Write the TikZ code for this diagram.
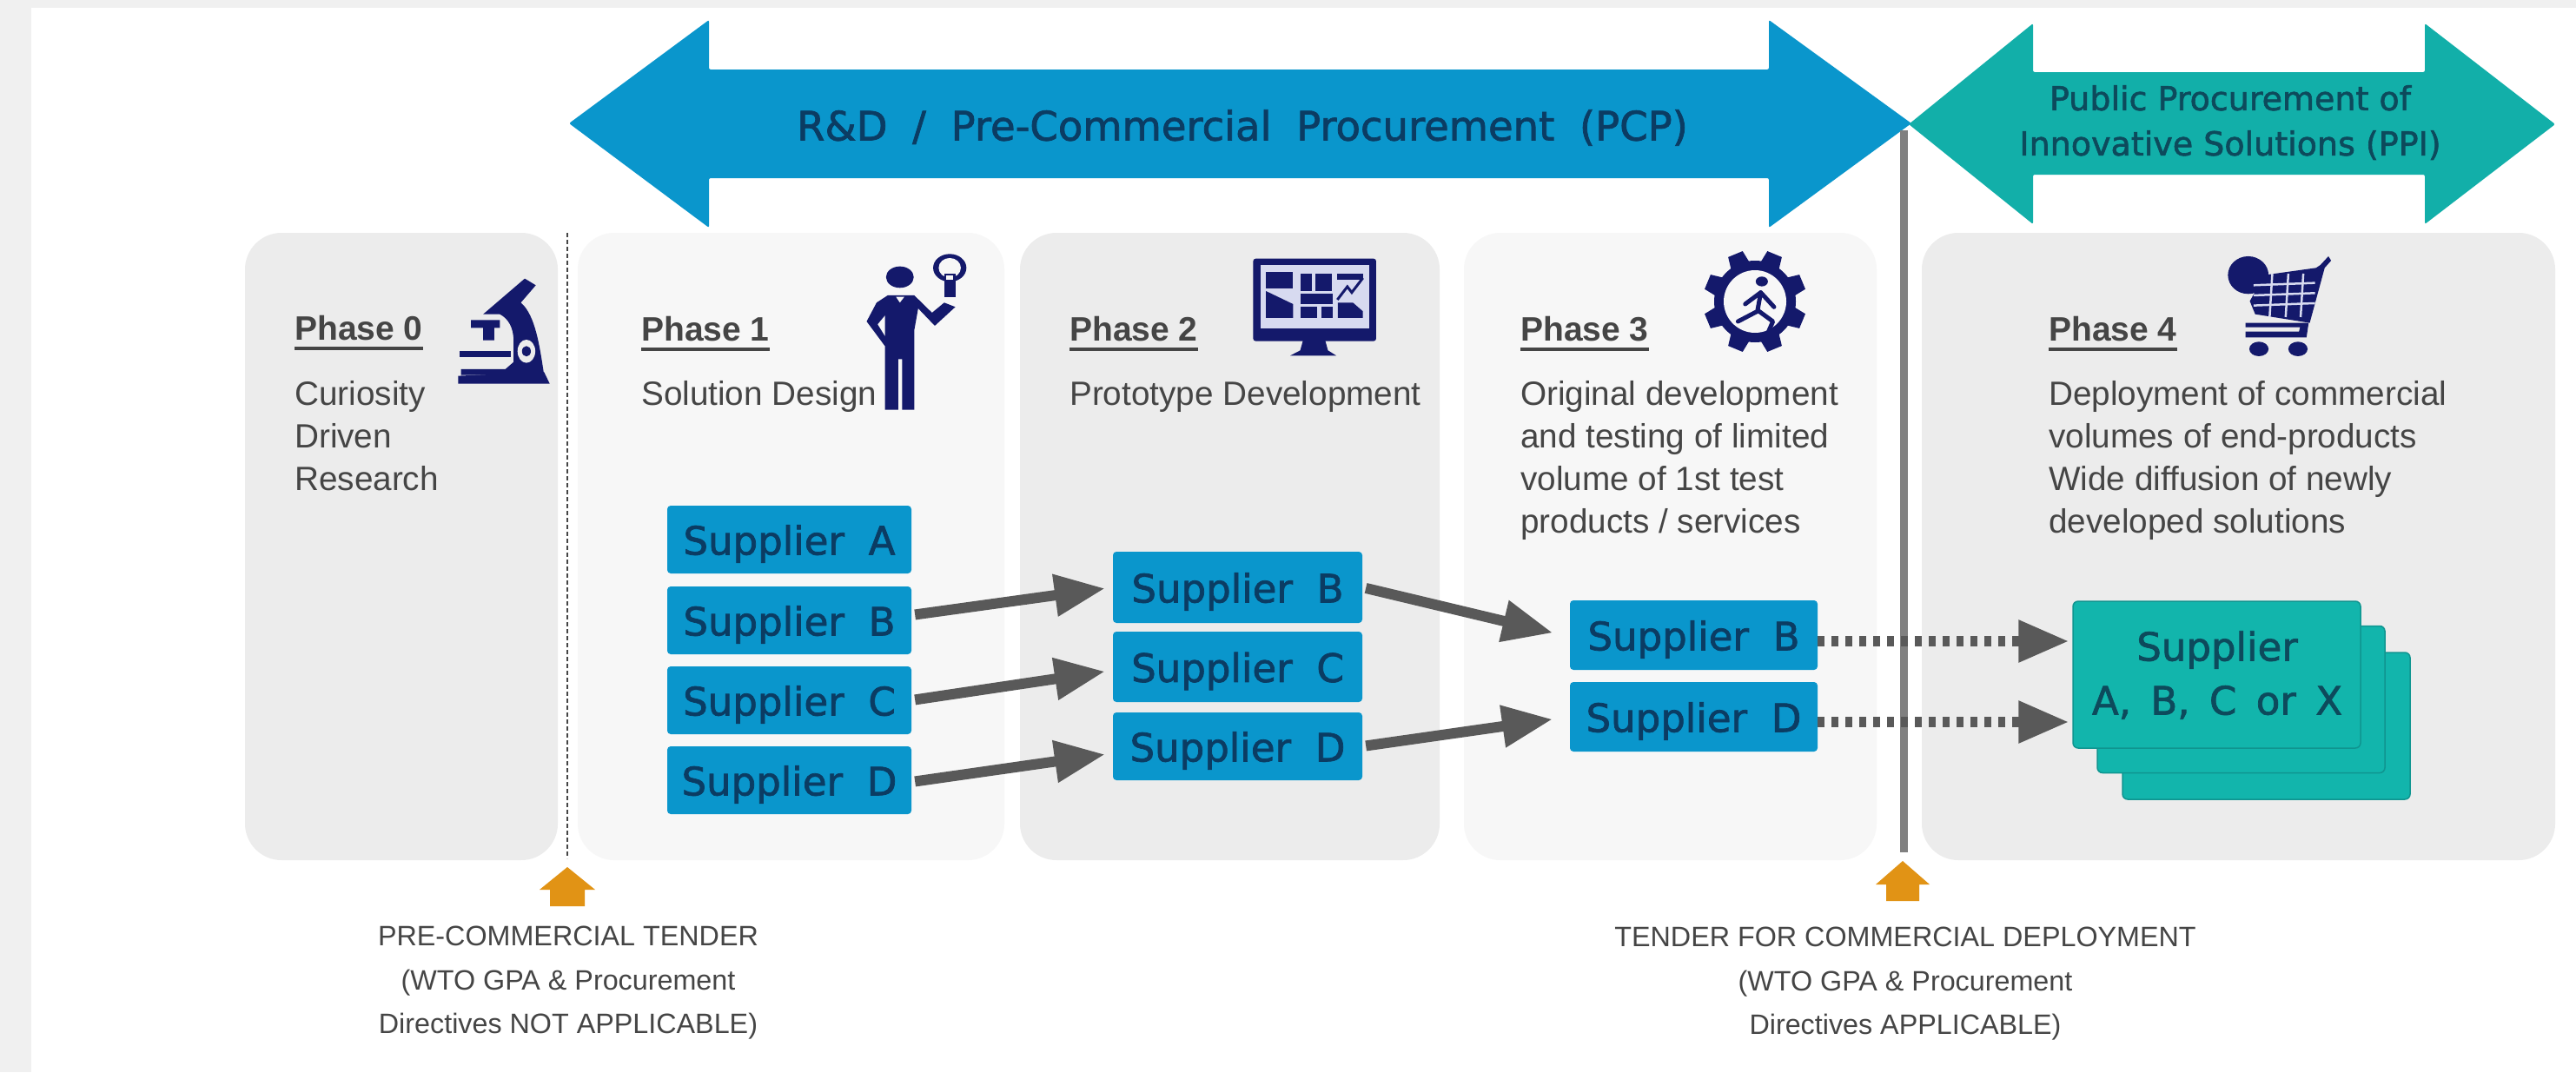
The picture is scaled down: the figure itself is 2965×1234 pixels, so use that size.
\documentclass[tikz,border=0pt]{standalone}
\usepackage{fontspec}
\usetikzlibrary{arrows.meta,calc}
\setmainfont{Liberation Sans}
\newfontfamily\dvfont[FakeBold=1.6]{DejaVu Sans}
\definecolor{pageg}{HTML}{F0F0F0}
\definecolor{pdark}{HTML}{ECECEC}
\definecolor{plight}{HTML}{F7F7F7}
\definecolor{pcpblue}{HTML}{0A96CC}
\definecolor{ppiteal}{HTML}{12AFA9}
\definecolor{cardteal}{HTML}{12B5AC}
\definecolor{inkblue}{HTML}{0B3C63}
\definecolor{inkteal}{HTML}{0D4A5C}
\definecolor{navyicon}{HTML}{14196B}
\definecolor{screenl}{HTML}{D7DAF0}
\definecolor{arrowg}{HTML}{595959}
\definecolor{txtg}{HTML}{454545}
\definecolor{lineg}{HTML}{808080}
\definecolor{orangeup}{HTML}{E19315}
\newcommand{\wsp}{\hspace{.3em}}
\newcommand{\suptext}[1]{\raisebox{-5pt}[\height][\depth]{#1}}
\tikzset{
  panel/.style={rounded corners=42pt,minimum width=#1,minimum height=722pt,inner sep=0pt,draw=none},
  supplierbox/.style={rounded corners=4pt,fill=pcpblue,minimum width=#1,inner sep=0pt,text=inkblue,
     font=\dvfont\fontsize{45}{54}\selectfont},
  card/.style={rounded corners=6pt,fill=cardteal,draw=#1,line width=1.5pt,minimum width=331pt,minimum height=169pt,inner sep=0pt},
  phaselabel/.style={anchor=base west,inner sep=0pt,text=txtg,font=\fontsize{39}{47}\bfseries\selectfont},
  phasetext/.style={anchor=north west,inner sep=0pt,align=left,text=txtg,font=\fontsize{38.7}{49}\selectfont},
  tendertext/.style={anchor=north,inner sep=0pt,align=center,text=txtg,font=\fontsize{32.3}{50.5}\selectfont},
  phaseline/.style={line width=3.5pt,draw=txtg},
  bigflow/.style={line width=12pt,draw=arrowg,shorten >=9pt,shorten <=4pt,
     -{Triangle[length=58pt,width=46pt,fill=arrowg]}},
  dotflow/.style={line width=12pt,draw=arrowg,dash pattern=on 8pt off 8pt,shorten >=4pt,
     -{Triangle[length=58pt,width=46pt,fill=arrowg]}},
  iconfill/.style={fill=navyicon,draw=none},
}
\begin{document}
\begin{tikzpicture}[x=1pt,y=-1pt]
\useasboundingbox (0,0) rectangle (2965,1234);
\fill[white] (0,0) rectangle (2965,1234);
\fill[pageg] (0,0) rectangle (2965,9);
\fill[pageg] (0,0) rectangle (36,1234);

% phase panels
\node[panel=360pt,fill=pdark] (p0) at (462,629) {};
\node[panel=491pt,fill=plight] (p1) at (910.5,629) {};
\node[panel=483pt,fill=pdark] (p2) at (1415.5,629) {};
\node[panel=475pt,fill=plight] (p3) at (1922.5,629) {};
\node[panel=729pt,fill=pdark] (p4) at (2576.5,629) {};

% big arrows
\fill[pcpblue,rounded corners=2pt] (655,142) -- (816,23) -- (816,80) -- (2036,80) -- (2036,23) -- (2200,142) -- (2036,262) -- (2036,205) -- (816,205) -- (816,262) -- cycle;
\fill[ppiteal,rounded corners=2pt] (2197,143) -- (2340,27) -- (2340,83) -- (2791,83) -- (2791,27) -- (2941,143) -- (2791,258) -- (2791,201) -- (2340,201) -- (2340,258) -- cycle;
\node[text=inkblue,inner sep=0pt,font=\dvfont\fontsize{46.5}{54}\selectfont] (pcp) at (1430,147) {R\&D\wsp{} /\wsp{} Pre-Commercial\wsp{} Procurement\wsp{} (PCP)};
\node[text=inkteal,inner sep=0pt,align=center,font=\dvfont\fontsize{38}{52}\selectfont] (ppi) at (2567,141) {Public Procurement of\\Innovative Solutions (PPI)};

% separators
\coordinate (sep0a) at (653,268);
\coordinate (sep0b) at (653,988);
\draw[line width=1.5pt,draw=txtg,dash pattern=on 5pt off 3pt] (sep0a) -- (sep0b);
\coordinate (sep1a) at (2191,150);
\coordinate (sep1b) at (2191,981);
\draw[line width=9pt,draw=lineg] (sep1a) -- (sep1b);

% phase labels
\node[phaselabel] (ph0) at (339,391) {Phase 0};
\node[phaselabel] (ph1) at (738,392) {Phase 1};
\node[phaselabel] (ph2) at (1231,392) {Phase 2};
\node[phaselabel] (ph3) at (1750,392) {Phase 3};
\node[phaselabel] (ph4) at (2358,392) {Phase 4};
\foreach \n in {ph0,ph1,ph2,ph3,ph4}
  \draw[phaseline] ([yshift=-10pt]\n.base west) -- ([yshift=-10pt]\n.base east);

\node[phasetext] (t0) at (339,432) {\strut Curiosity\\Driven\\Research};
\node[phasetext] (t1) at (738,432) {\strut Solution Design};
\node[phasetext] (t2) at (1231,432) {\strut Prototype Development};
\node[phasetext] (t3) at (1750,432) {\strut Original development\\and testing of limited\\volume of 1st test\\products / services};
\node[phasetext] (t4) at (2358,432) {\strut Deployment of commercial\\volumes of end-products\\Wide diffusion of newly\\developed solutions};

% suppliers
\node[supplierbox=281pt,minimum height=78pt] (a1) at (908.5,621) {\suptext{Supplier\wsp{} A}};
\node[supplierbox=281pt,minimum height=78pt] (b1) at (908.5,714) {\suptext{Supplier\wsp{} B}};
\node[supplierbox=281pt,minimum height=78pt] (c1) at (908.5,806) {\suptext{Supplier\wsp{} C}};
\node[supplierbox=281pt,minimum height=78pt] (d1) at (908.5,898) {\suptext{Supplier\wsp{} D}};
\node[supplierbox=287pt,minimum height=82pt] (b2) at (1424.5,676) {\suptext{Supplier\wsp{} B}};
\node[supplierbox=287pt,minimum height=81pt] (c2) at (1424.5,767.5) {\suptext{Supplier\wsp{} C}};
\node[supplierbox=287pt,minimum height=78pt] (d2) at (1424.5,859) {\suptext{Supplier\wsp{} D}};
\node[supplierbox=285pt,minimum height=80pt] (b3) at (1949.5,731) {\suptext{Supplier\wsp{} B}};
\node[supplierbox=285pt,minimum height=80pt] (d3) at (1949.5,825) {\suptext{Supplier\wsp{} D}};

% stacked cards
\node[card=ppiteal!85!black] (st3) at (2608.5,835.5) {};
\node[card=ppiteal!85!black] (st2) at (2579.5,805) {};
\node[card=ppiteal!85!black] (st1) at (2551.5,776.5) {};
\node[text=inkteal,inner sep=0pt,align=center,font=\dvfont\fontsize{45}{62}\selectfont] (st1t) at (2552,777) {Supplier\\A,\hspace{.18em} B,\hspace{.18em} C\hspace{.18em} or\hspace{.18em} X};

% connectors
\draw[bigflow] ([yshift=6pt]b1.east) -- (b2.west);
\draw[bigflow] (c1.east) -- ([yshift=-4pt]c2.west);
\draw[bigflow] ([yshift=-2pt]d1.east) -- ([yshift=-8pt]d2.west);
\draw[bigflow,shorten >=20pt] (b2.east) -- ([yshift=-2pt]b3.west);
\draw[bigflow,shorten >=20pt] (d2.east) -- (d3.west);
\draw[dotflow] ([yshift=-7pt]b3.east) -- ([yshift=-7pt]b3.east -| st1.west);
\draw[dotflow] ([yshift=-6pt]d3.east) -- ([yshift=-6pt]d3.east -| st1.west);

% orange tender arrows
\fill[orangeup] (653,998) -- (685,1024) -- (673,1024) -- (673,1043) -- (633,1043) -- (633,1024) -- (621,1024) -- cycle;
\fill[orangeup] (2190,991) -- (2221,1018) -- (2209,1018) -- (2209,1037) -- (2171,1037) -- (2171,1018) -- (2159,1018) -- cycle;

\node[tendertext] (t5) at (654,1053) {\strut PRE-COMMERCIAL TENDER\\(WTO GPA \& Procurement\\Directives NOT APPLICABLE)};
\node[tendertext] (t6) at (2193,1054) {\strut TENDER FOR COMMERCIAL DEPLOYMENT\\(WTO GPA \& Procurement\\Directives APPLICABLE)};

% microscope icon
\begin{scope}[shift={(250,0)},xscale=.6378,yscale=.3333]
  \fill[iconfill] (435,1298) -- (590,1285) -- (600,1325) -- (435,1325) -- cycle;
  \fill[iconfill] (555,962) -- (575,985) -- (548,1045) .. controls (575,1090) and (582,1200) .. (590,1295) -- (440,1295) -- (440,1275) -- (520,1275) -- (535,1250) -- (535,1180) .. controls (535,1130) and (525,1100) .. (510,1085) -- (480,1085) -- cycle;
  \fill[iconfill] (458,1105) -- (510,1105) -- (510,1132) -- (500,1132) -- (500,1175) -- (480,1175) -- (480,1132) -- (458,1132) -- cycle;
  \fill[iconfill] (437,1212) -- (530,1212) -- (530,1232) -- (437,1232) -- cycle;
  \fill[pdark] (558,1213) ellipse [x radius=16,y radius=40];
  \fill[iconfill] (558,1213) ellipse [x radius=8,y radius=18];
\end{scope}

% person with bulb icon
\begin{scope}[shift={(250,0)},xscale=.6378,yscale=.3333]
  \fill[iconfill] (1232,957) ellipse [x radius=25,y radius=37];
  \fill[iconfill] (1210,1020) -- (1190,1045) -- (1172,1110) -- (1205,1195) -- (1205,1415) -- (1229,1415) -- (1229,1240) -- (1236,1240) -- (1236,1415) -- (1258,1415) -- (1258,1140) -- (1265,1065) -- (1295,1125) -- (1332,1060) -- (1312,1045) -- (1290,1080) -- (1258,1020) -- cycle;
  \fill[plight] (1192,1120) -- (1205,1090) -- (1205,1160) -- cycle;
  \fill[plight] (1225,1025) -- (1232,1045) -- (1240,1025) -- cycle;
  \fill[iconfill] (1322,925) ellipse [x radius=30,y radius=48];
  \fill[plight] (1322,925) ellipse [x radius=20,y radius=34];
  \fill[iconfill] (1312,945) -- (1332,945) -- (1332,1025) -- (1312,1025) -- cycle;
  \fill[plight] (1316,950) -- (1328,950) -- (1328,965) -- (1316,965) -- cycle;
\end{scope}

% monitor icon
\begin{scope}[shift={(1200,0)},xscale=.6378,yscale=.3333]
  \fill[iconfill,rounded corners=3pt] (380,893) rectangle (602,1178);
  \fill[screenl] (394,915) rectangle (590,1135);
  \fill[iconfill] (470,1175) -- (510,1175) -- (515,1210) -- (530,1228) -- (447,1228) -- (465,1210) -- cycle;
  \fill[iconfill] (403,940) rectangle (452,995);
  \fill[iconfill] (403,1005) -- (452,1050) -- (452,1098) -- (403,1098) -- cycle;
  \fill[iconfill] (466,945) rectangle (486,1005);
  \fill[iconfill] (493,945) rectangle (522,1005);
  \fill[iconfill] (465,1015) rectangle (524,1050);
  \fill[iconfill] (466,1060) rectangle (496,1098);
  \fill[iconfill] (504,1060) rectangle (524,1098);
  \fill[iconfill] (532,945) rectangle (578,965);
  \fill[iconfill] (533,1045) -- (560,1045) -- (578,1075) -- (578,1098) -- (533,1098) -- cycle;
  \draw[navyicon,line width=3pt] (532,1035) -- (550,990) -- (558,1010) -- (578,960);
\end{scope}

% gear icon
\begin{scope}[shift={(2020,347)}]
  \foreach \a in {22.5,67.5,...,360} {
    \fill[iconfill,rotate=\a] (40,-12) -- (59,-9) -- (59,9) -- (40,12) -- cycle;
  }
  \fill[iconfill] (0,0) circle [radius=47];
  \fill[plight] (0,0) circle [radius=36];
\end{scope}
\begin{scope}[shift={(1200,0)},xscale=.6378,yscale=.3333]
  \fill[iconfill] (1298,972) ellipse [x radius=11,y radius=17];
  \draw[navyicon,line width=5pt,line cap=round,line join=round] (1255,1110) -- (1290,1075) -- (1296,1010) -- (1320,1060);
  \draw[navyicon,line width=5pt,line cap=round,line join=round] (1296,1010) -- (1268,1050);
  \draw[navyicon,line width=5pt,line cap=round,line join=round] (1293,1075) -- (1318,1110) -- (1310,1145);
\end{scope}

% shopping cart icon
\begin{scope}[shift={(2000,0)},xscale=.6154,yscale=.3333]
  \fill[iconfill] (955,950) ellipse [x radius=38,y radius=65];
  \fill[iconfill] (985,950) -- (1082,925) -- (1090,915) -- (1105,885) -- (1110,900) -- (1098,925) -- (1070,1115) -- (968,1085) -- (958,1040) -- cycle;
  \foreach \yy in {985,1020,1055} \draw[screenl,line width=2.5pt] (965,\yy) -- (1080,\yy-8);
  \foreach \xx in {1000,1030,1058} \draw[screenl,line width=2.5pt] (\xx,945) -- (\xx-5,1095);
  \fill[iconfill] (950,1115) -- (1068,1115) -- (1064,1165) -- (950,1165) -- (950,1145) -- (1050,1145) -- (1052,1130) -- (950,1130) -- cycle;
  \fill[iconfill] (975,1205) ellipse [x radius=18,y radius=25];
  \fill[iconfill] (1048,1205) ellipse [x radius=18,y radius=25];
\end{scope}
\end{tikzpicture}
\end{document}
